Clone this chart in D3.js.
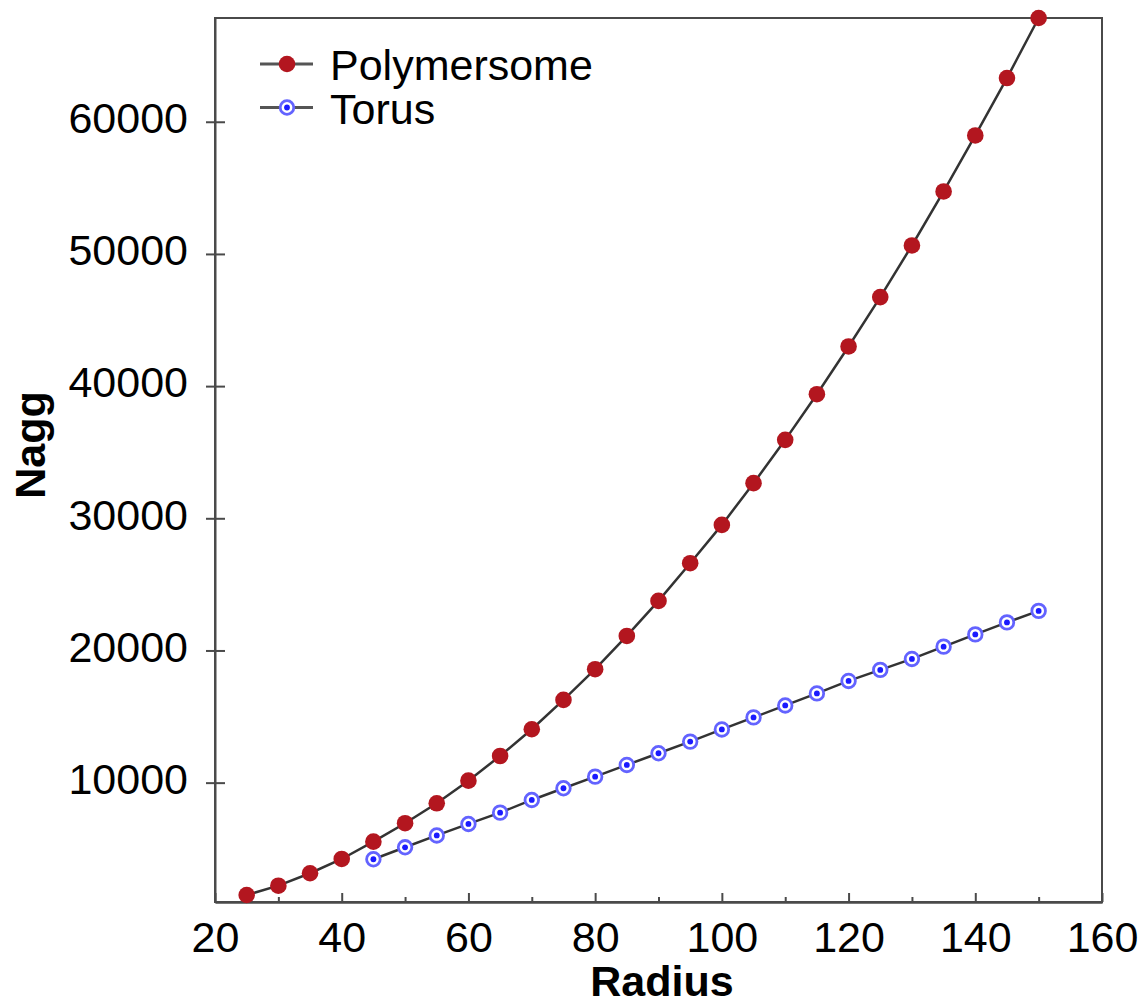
<!DOCTYPE html>
<html>
<head>
<meta charset="utf-8">
<script src="https://cdn.jsdelivr.net/npm/d3@7"></script>
<style>
  html, body { margin: 0; padding: 0; background: #fff; }
  svg { display: block; font-family: "Liberation Sans", Arial, Helvetica, sans-serif; }
</style>
</head>
<body>
<svg id="chart" width="1141" height="1006"></svg>
<script>
// Aggregation number versus radius for two aggregate shapes
const radiusPolymersome = [25, 30, 35, 40, 45, 50, 55, 60, 65, 70, 75, 80, 85, 90, 95, 100, 105, 110, 115, 120, 125, 130, 135, 140, 145, 150];
const naggPolymersome = [1500, 2205, 3145, 4225, 5535, 6930, 8440, 10150, 12020, 14040, 16260, 18580, 21100, 23750, 26600, 29500, 32660, 35935, 39390, 43000, 46735, 50640, 54725, 58965, 63305, 67850];

const radiusTorus = [45, 50, 55, 60, 65, 70, 75, 80, 85, 90, 95, 100, 105, 110, 115, 120, 125, 130, 135, 140, 145, 150];
const naggTorus = [4205, 5110, 6005, 6875, 7730, 8690, 9575, 10455, 11340, 12225, 13105, 14025, 14935, 15840, 16750, 17695, 18530, 19360, 20290, 21215, 22125, 22995];

const xTicks = [20, 40, 60, 80, 100, 120, 140, 160];
const xMinorTicks = [30, 50, 70, 90, 110, 130, 150];
const yTicks = [10000, 20000, 30000, 40000, 50000, 60000];

const seriesNames = ["Polymersome", "Torus"];

const svg = d3.select("#chart");
const margin = { left: 215, right: 39, top: 18, bottom: 104 };
const W = 1141, H = 1006;
const innerW = W - margin.left - margin.right;
const innerH = H - margin.top - margin.bottom;

const x = d3.scaleLinear().domain([20, 160]).range([0, innerW]);
const y = d3.scaleLinear().domain([970, d3.max(naggPolymersome)]).range([innerH, 0]);

const g = svg.append("g").attr("transform", `translate(${margin.left},${margin.top})`);

const axisColor = "#4a4a4a";
const fontSize = 43;

// Frame
g.append("rect")
  .attr("x", 0).attr("y", 0)
  .attr("width", innerW).attr("height", innerH)
  .attr("fill", "none")
  .attr("stroke", axisColor)
  .attr("stroke-width", 2);

// Bottom axis: major ticks point inward, with labels
const xAxis = g.append("g")
  .attr("transform", `translate(0,${innerH})`)
  .call(d3.axisBottom(x).tickValues(xTicks).tickSize(-9).tickSizeOuter(0).tickPadding(19).tickFormat(d3.format("d")));
// Minor ticks in between
const xMinor = g.append("g")
  .attr("transform", `translate(0,${innerH})`)
  .call(d3.axisBottom(x).tickValues(xMinorTicks).tickSize(-5).tickSizeOuter(0).tickFormat(""));

// Left axis: ticks cross the axis line
const yAxis = g.append("g")
  .call(d3.axisLeft(y).tickValues(yTicks).tickSize(9).tickSizeOuter(0).tickPadding(18).tickFormat(d3.format("d")));
yAxis.selectAll(".tick line").attr("x1", 10).attr("x2", -9);

[xAxis, xMinor, yAxis].forEach(a => {
  a.select(".domain").attr("stroke", axisColor).attr("stroke-width", 2);
  a.selectAll(".tick line").attr("stroke", axisColor).attr("stroke-width", 2);
  a.selectAll(".tick text")
    .attr("fill", "#000")
    .style("font-size", fontSize + "px")
    .style("font-family", "'Liberation Sans', Arial, sans-serif");
});
yAxis.selectAll(".tick text").attr("dy", "0.25em");

// Axis titles
svg.append("text")
  .attr("x", 662)
  .attr("y", 996)
  .attr("text-anchor", "middle")
  .style("font-size", fontSize + "px")
  .style("font-weight", "bold")
  .text("Radius");

svg.append("text")
  .attr("transform", `translate(45,445) rotate(-90)`)
  .attr("text-anchor", "middle")
  .style("font-size", fontSize + "px")
  .style("font-weight", "bold")
  .text("Nagg");

// Lines
const line = d3.line().x(d => x(d[0])).y(d => y(d[1]));
const polyData = radiusPolymersome.map((r, i) => [r, naggPolymersome[i]]);
const torusData = radiusTorus.map((r, i) => [r, naggTorus[i]]);

const lineColor = "#333";
g.append("path").datum(polyData)
  .attr("d", line).attr("fill", "none")
  .attr("stroke", lineColor).attr("stroke-width", 2.5);
g.append("path").datum(torusData)
  .attr("d", line).attr("fill", "none")
  .attr("stroke", lineColor).attr("stroke-width", 2.5);

// Marker styles
const red = "#b3161f";
function redDot(sel) {
  sel.append("circle").attr("r", 8.3).attr("fill", red);
}
function blueRing(sel) {
  sel.append("circle").attr("r", 6.8).attr("fill", "#fff")
    .attr("stroke", "#6363ff").attr("stroke-width", 2.8);
  sel.append("circle").attr("r", 2.9).attr("fill", "#1a1aff");
}

g.selectAll(".pt-poly").data(polyData).join("g")
  .attr("class", "pt-poly")
  .attr("transform", d => `translate(${x(d[0])},${y(d[1])})`)
  .call(redDot);

g.selectAll(".pt-torus").data(torusData).join("g")
  .attr("class", "pt-torus")
  .attr("transform", d => `translate(${x(d[0])},${y(d[1])})`)
  .call(blueRing);

// Legend
const legend = svg.append("g");
const legendRows = [
  { name: seriesNames[0], yPos: 64, marker: redDot },
  { name: seriesNames[1], yPos: 107.5, marker: blueRing }
];
legendRows.forEach(row => {
  const rg = legend.append("g");
  rg.append("line")
    .attr("x1", 260).attr("x2", 313)
    .attr("y1", row.yPos).attr("y2", row.yPos)
    .attr("stroke", "#555").attr("stroke-width", 3);
  rg.append("g").attr("transform", `translate(287,${row.yPos})`).call(row.marker);
  rg.append("text")
    .attr("x", 330).attr("y", row.yPos + 16)
    .style("font-size", fontSize + "px")
    .attr("fill", "#000")
    .text(row.name);
});
</script>
</body>
</html>
